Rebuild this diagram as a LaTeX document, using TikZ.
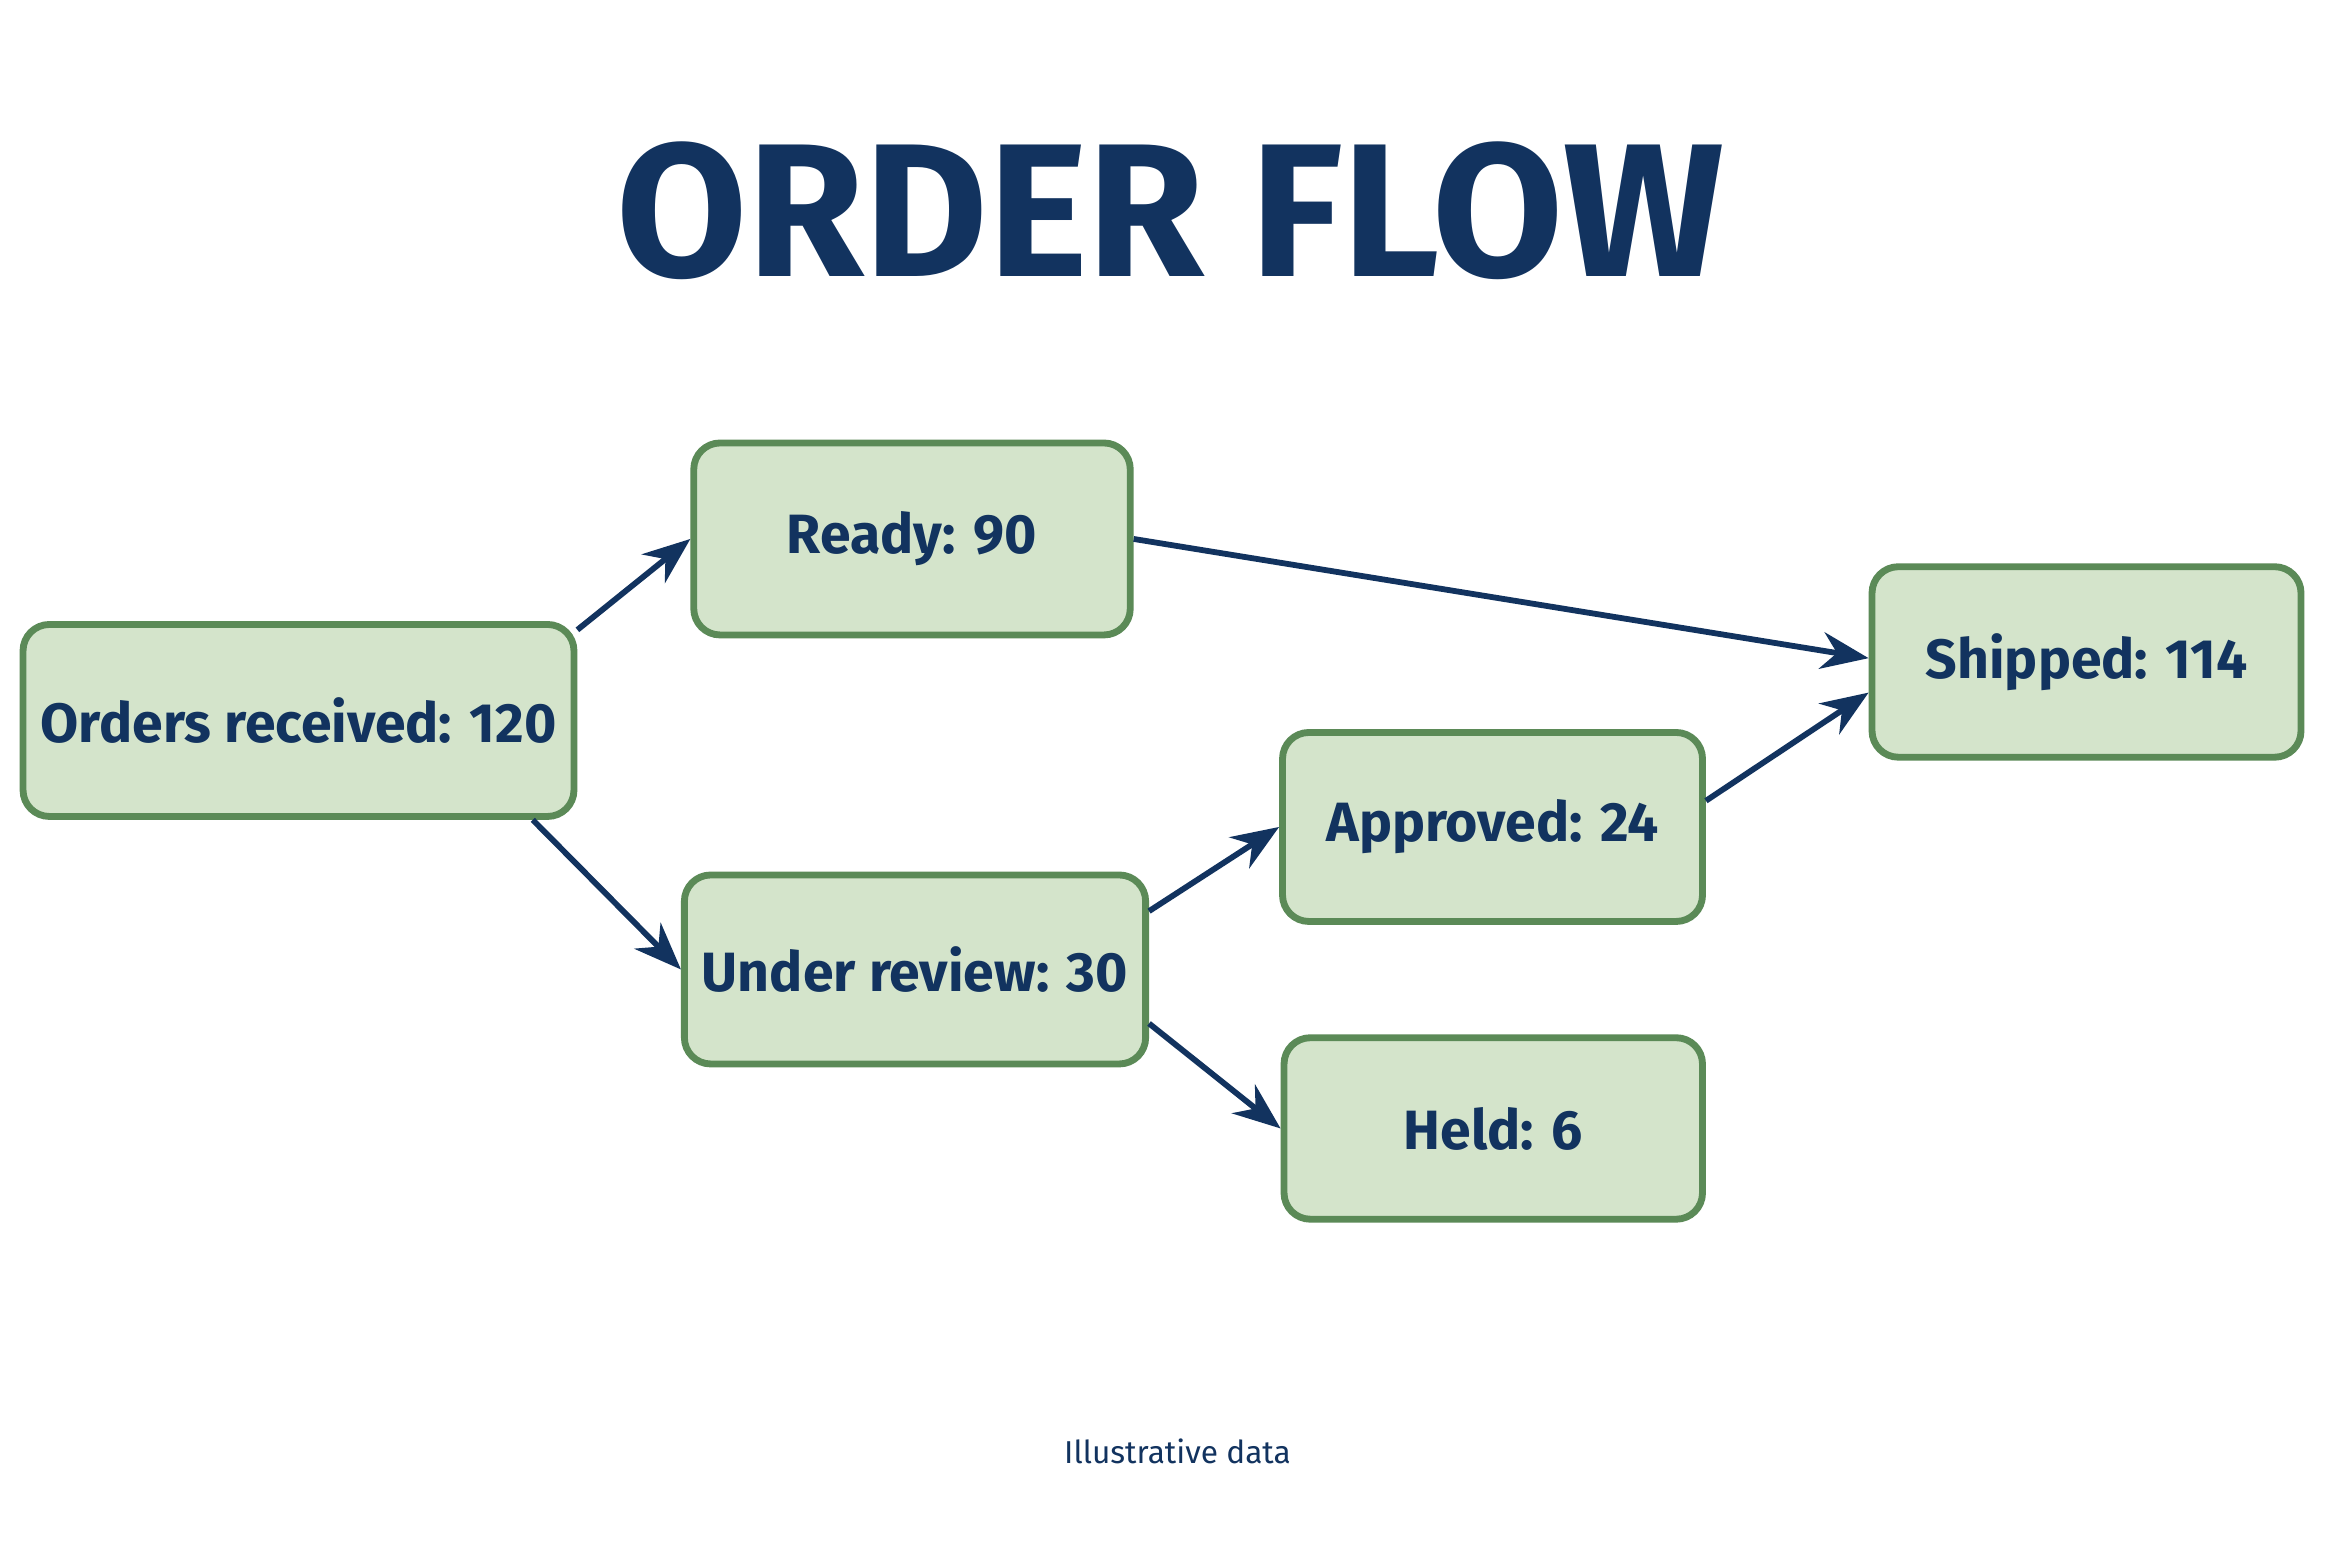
\documentclass[tikz,border=0pt]{standalone}
\usepackage{fontspec}
\setmainfont{Fira Sans}
\usetikzlibrary{arrows.meta}

\definecolor{navy}{HTML}{12335F}
\definecolor{boxfill}{HTML}{D4E4CB}
\definecolor{boxline}{HTML}{5B8A57}

\tikzset{
  stage/.style={draw=boxline,line width=1.3pt,fill=boxfill,rounded corners=5pt,
    text=navy,font=\fontsize{10.5}{12}\selectfont\bfseries,align=center},
  flow/.style={navy,line width=1.1pt,-{Stealth[length=9pt,width=7pt]}}
}

\begin{document}
\begin{tikzpicture}

    % canvas
    \useasboundingbox[fill=white] (0,0) rectangle (15.68,10.453);

    % title
    \node[navy,font=\fontsize{36}{40}\selectfont\bfseries] (title) at (7.80,9.05) {ORDER FLOW};

    % stages
    \node[stage,minimum width=3.28cm,minimum height=1.28cm] (orders) at (1.99,5.65) {Orders received: 120};
    \node[stage,minimum width=2.91cm,minimum height=1.28cm] (ready) at (6.08,6.86) {Ready: 90};
    \node[stage,minimum width=2.95cm,minimum height=1.26cm] (review) at (6.10,3.99) {Under review: 30};
    \node[stage,minimum width=2.80cm,minimum height=1.26cm] (approved) at (9.95,4.94) {Approved: 24};
    \node[stage,minimum width=2.79cm,minimum height=1.21cm] (held) at (9.955,2.93) {Held: 6};
    \node[stage,minimum width=2.86cm,minimum height=1.27cm] (shipped) at (13.91,6.04) {Shipped: 114};

    % connectors
    \draw[flow] (orders.18) -- (ready.west);
    \draw[flow] (orders.-23) -- (review.west);
    \draw[flow] (ready.east) -- (shipped.179);
    \draw[flow] (review.14) -- (approved.west);
    \draw[flow] (review.-13) -- (held.west);
    \draw[flow] (approved.7) -- (shipped.188);

    % footer
    \node[navy,font=\fontsize{6}{7}\selectfont] (note) at (7.85,0.78) {Illustrative data};

\end{tikzpicture}
\end{document}
